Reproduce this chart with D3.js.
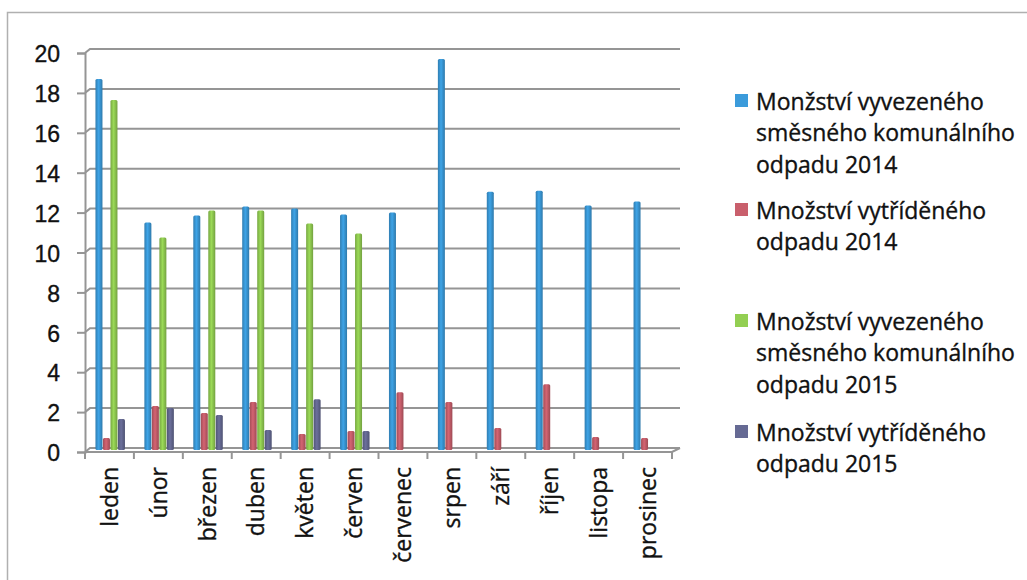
<!DOCTYPE html>
<html>
<head>
<meta charset="utf-8">
<script src="https://cdn.jsdelivr.net/npm/d3@7"></script>
<style>
  html, body { margin: 0; padding: 0; background: #fff; }
  svg { display: block; font-family: "Open Sans", "Noto Sans", sans-serif; }
  .grid { stroke: #959595; stroke-width: 2; fill: none; }
  .tick-label { font-size: 23px; fill: #111; stroke: #111; stroke-width: 0.35px; }
  .legend-text { font-size: 23px; fill: #111; stroke: #111; stroke-width: 0.35px; }
</style>
</head>
<body>
<svg id="chart" width="1027" height="580"></svg>
<script>
// === DATA ===

const MONTHS = ['leden', 'únor', 'březen', 'duben', 'květen', 'červen',
                'červenec', 'srpen', 'září', 'říjen', 'listopa', 'prosinec'];

const SMESNY_2014   = [18.6, 11.4, 11.75, 12.2, 12.1, 11.8, 11.9, 19.6, 12.95, 13.0, 12.25, 12.45];
const VYTRIDENY_2014 = [0.6, 2.2, 1.85, 2.4, 0.8, 0.95, 2.9, 2.4, 1.1, 3.3, 0.65, 0.6];
const SMESNY_2015   = [17.55, 10.65, 12.0, 12.0, 11.35, 10.85, null, null, null, null, null, null];
const VYTRIDENY_2015 = [1.55, 2.1, 1.75, 1.0, 2.55, 0.95, null, null, null, null, null, null];

const SERIES_NAMES = [
    ['Monžství vyvezeného', 'směsného komunálního', 'odpadu 2014'],
    ['Množství vytříděného', 'odpadu 2014'],
    ['Množství vyvezeného', 'směsného komunálního', 'odpadu 2015'],
    ['Množství vytříděného', 'odpadu 2015']
];

const Y_TICKS = [0, 2, 4, 6, 8, 10, 12, 14, 16, 18, 20];

const COLORS = ['#3b9bdb', '#c95f6c', '#93cf52', '#666a94'];

// === LAYOUT ===

const DEPTH_X = 5, DEPTH_Y = -4;   // fake 3D back-wall offset
const FRONT_LEFT = 85, FRONT_RIGHT = 672;
const FLOOR_Y = 452, TOP_Y = 53;
const GROUP_W = 30;

const series = [SMESNY_2014, VYTRIDENY_2014, SMESNY_2015, VYTRIDENY_2015];

const svg = d3.select('#chart');

// outer frame (top + left edge only, as in the scan)
svg.append('path')
    .attr('d', 'M7.5,580 L7.5,12.5 L1027,12.5')
    .attr('fill', 'none')
    .attr('stroke', '#b0b0b0')
    .attr('stroke-width', 1.5);

const x = d3.scaleBand()
    .domain(MONTHS)
    .range([FRONT_LEFT, FRONT_RIGHT]);

const y = d3.scaleLinear()
    .domain([0, 20])
    .range([FLOOR_Y, TOP_Y]);

const xInner = d3.scaleBand()
    .domain(d3.range(series.length))
    .range([0, GROUP_W]);

// --- back wall gridlines ---
const grid = svg.append('g');
Y_TICKS.forEach(t => {
    grid.append('path')
        .attr('class', 'grid')
        .attr('d', `M${FRONT_LEFT},${y(t)} L${FRONT_LEFT + DEPTH_X},${y(t) + DEPTH_Y} L${FRONT_RIGHT + DEPTH_X + 3},${y(t) + DEPTH_Y}`);
});

// floor front edge + right depth edge
grid.append('path')
    .attr('class', 'grid')
    .attr('d', `M${FRONT_LEFT},${FLOOR_Y} L${FRONT_RIGHT},${FLOOR_Y} L${FRONT_RIGHT + DEPTH_X + 3},${FLOOR_Y + DEPTH_Y}`);

// --- Y axis ---
const yAxis = svg.append('g')
    .attr('transform', `translate(${FRONT_LEFT},0)`)
    .call(d3.axisLeft(y).tickValues(Y_TICKS).tickSize(8).tickPadding(17));
yAxis.select('.domain').attr('stroke', '#959595').attr('stroke-width', 2);
yAxis.selectAll('.tick line').attr('stroke', '#959595').attr('stroke-width', 2);
yAxis.selectAll('.tick text')
    .attr('class', 'tick-label')
    .attr('font-family', null)
    .attr('font-size', null)
    .attr('dy', '0.38em');

// --- X axis ticks at category boundaries ---
const xTicks = svg.append('g');
MONTHS.concat([null]).forEach(m => {
    const px = m === null ? FRONT_RIGHT : x(m);
    xTicks.append('line')
        .attr('x1', px).attr('x2', px)
        .attr('y1', FLOOR_Y).attr('y2', FLOOR_Y + 7)
        .attr('stroke', '#959595')
        .attr('stroke-width', 2);
});

// --- bars ---
const defs = svg.append('defs');
COLORS.forEach((c, i) => {
    const g = defs.append('linearGradient')
        .attr('id', 'bar' + i)
        .attr('x1', '0').attr('x2', '1').attr('y1', '0').attr('y2', '0');
    g.append('stop').attr('offset', '0%').attr('stop-color', d3.color(c).darker(0.6));
    g.append('stop').attr('offset', '45%').attr('stop-color', d3.color(c).brighter(0.15));
    g.append('stop').attr('offset', '100%').attr('stop-color', d3.color(c).darker(0.7));
});

const barOffsetY = DEPTH_Y / 2;
const groups = svg.append('g')
    .selectAll('g')
    .data(MONTHS)
    .join('g')
    .attr('transform', d => `translate(${x(d) + (x.bandwidth() - GROUP_W) / 2 + 1},0)`);

groups.selectAll('rect')
    .data((m, mi) => series.map((s, si) => ({ si, v: s[mi] })).filter(d => d.v != null))
    .join('rect')
    .attr('x', d => xInner(d.si))
    .attr('width', xInner.bandwidth() - 0.5)
    .attr('y', d => y(d.v) + barOffsetY)
    .attr('height', d => y(0) - y(d.v))
    .attr('rx', 1.5)
    .attr('fill', d => `url(#bar${d.si})`);

// --- X labels ---
svg.append('g')
    .selectAll('text')
    .data(MONTHS)
    .join('text')
    .attr('class', 'tick-label')
    .attr('transform', d => `translate(${x(d) + x.bandwidth() / 2},467) rotate(-90)`)
    .attr('text-anchor', 'end')
    .attr('dy', '0.36em')
    .text(d => d);

// --- legend ---
const LEGEND_TOP = [110, 219, 330, 441];
const LINE_H = 31.3;
const legend = svg.append('g');
SERIES_NAMES.forEach((lines, i) => {
    legend.append('rect')
        .attr('x', 735)
        .attr('y', LEGEND_TOP[i] - 16)
        .attr('width', 13)
        .attr('height', 13)
        .attr('fill', COLORS[i]);
    const t = legend.append('text')
        .attr('class', 'legend-text')
        .attr('x', 756)
        .attr('y', LEGEND_TOP[i]);
    lines.forEach((line, li) => {
        t.append('tspan')
            .attr('x', 756)
            .attr('y', LEGEND_TOP[i] + li * LINE_H)
            .text(line);
    });
});
</script>
</body>
</html>
